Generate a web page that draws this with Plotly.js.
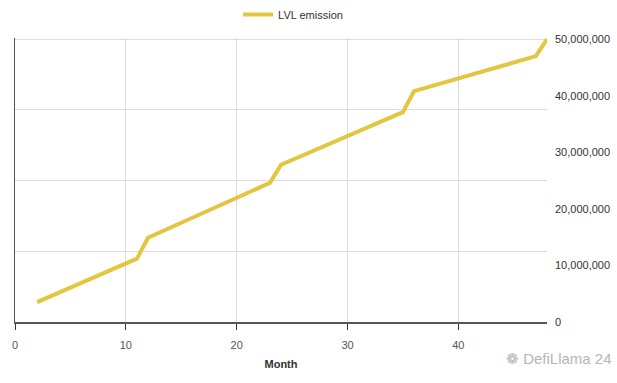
<!DOCTYPE html>
<html>
<head>
<meta charset="utf-8">
<script src="https://cdn.plot.ly/plotly-3.0.1.min.js"></script>
<style>html,body{margin:0;padding:0;background:#fff;}#chart{width:617px;height:383px;}</style>
</head>
<body>
<div id="chart"></div>
<script>
const months = [2, 11, 12, 23, 24, 35, 36, 47, 48];
const emission = [3500000, 11200000, 14900000, 24600000, 27800000, 37100000, 40800000, 47000000, 50000000];
const yTickVals = [0, 10000000, 20000000, 30000000, 40000000, 50000000];
const gridVals = [0, 12500000, 25000000, 37500000, 50000000];
const xTickVals = [0, 10, 20, 30, 40];

const font = "Liberation Sans, Arial, sans-serif";

const traces = [
  {
    x: months, y: emission, type: 'scatter', mode: 'lines', name: 'LVL emission',
    line: {color: '#E3C53F', width: 4}, yaxis: 'y', cliponaxis: false
  },
  {
    x: months, y: emission, type: 'scatter', mode: 'lines', showlegend: false,
    hoverinfo: 'skip', line: {color: 'rgba(0,0,0,0)', width: 0}, yaxis: 'y2'
  }
];

const layout = {
  width: 617, height: 383,
  margin: {l: 15, r: 70, t: 38, b: 61},
  paper_bgcolor: '#fff', plot_bgcolor: '#fff',
  font: {family: font, size: 11, color: '#444'},
  showlegend: true,
  legend: {
    orientation: 'h', xref: 'container', yref: 'container',
    x: 0.475, xanchor: 'center', y: 1.0, yanchor: 'top',
    font: {family: font, size: 11, color: '#333'}
  },
  xaxis: {
    range: [0, 48], tickvals: xTickVals, ticks: 'outside', ticklen: 6, tickcolor: '#333',
    showline: true, linecolor: '#555', linewidth: 1.5,
    showgrid: true, gridcolor: '#dcdcdc', zeroline: false,
    tickfont: {family: font, size: 11, color: '#555'}, ticklabelstandoff: 6,
    title: {text: '<b>Month</b>', font: {family: font, size: 11, color: '#333'}, standoff: 10}
  },
  yaxis: {
    range: [0, 50200000], side: 'right', tickvals: yTickVals, tickformat: ',',
    showgrid: false, zeroline: false, showline: false, ticks: '',
    tickfont: {family: font, size: 11, color: '#333'}, ticklabelstandoff: 7
  },
  yaxis2: {
    range: [0, 50200000], overlaying: 'y', side: 'left', tickvals: gridVals,
    showticklabels: false, showgrid: true, gridcolor: '#dcdcdc', zeroline: false,
    showline: true, linecolor: '#555', linewidth: 1.5, ticks: ''
  },
  annotations: [
    {
      xref: 'paper', yref: 'paper', x: 1.125, y: -0.13, xanchor: 'right', yanchor: 'middle',
      text: '\u2741 DefiLlama 24', showarrow: false,
      font: {family: font, size: 15, color: '#b5b5b5'}
    }
  ]
};

Plotly.newPlot('chart', traces, layout, {displayModeBar: false, staticPlot: true});
</script>
</body>
</html>
